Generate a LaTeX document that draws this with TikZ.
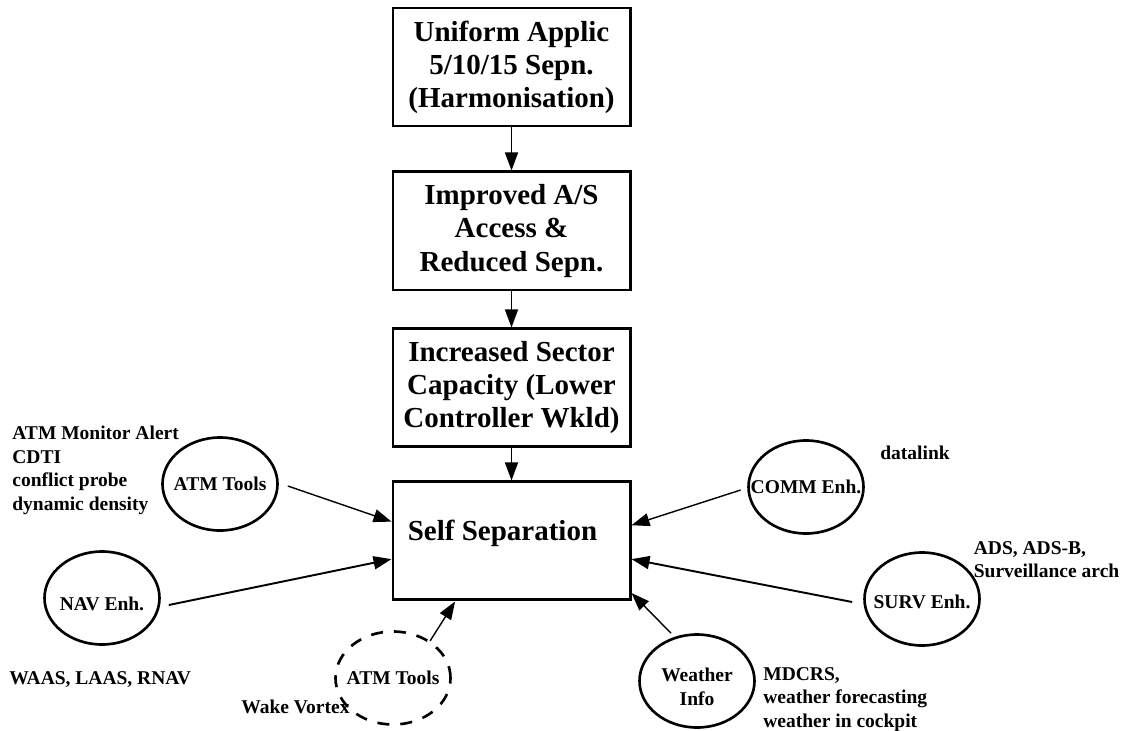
\documentclass[tikz,border=0pt]{standalone}
\usepackage{fontspec}
\setmainfont{Liberation Serif}
\usepackage{tikz}
\usetikzlibrary{shapes.geometric,arrows.meta,positioning,calc}
\newcommand{\stagefont}{\fontsize{16.5}{18.8}\selectfont\bfseries}
\newcommand{\notefont}{\fontsize{11.1}{13.4}\selectfont\bfseries}

\begin{document}
\begin{tikzpicture}[
    stage/.style={draw, line width=1.7pt, minimum width=4.74cm, minimum height=2.36cm, align=center, inner sep=0pt, font=\stagefont},
    tool/.style={draw, ellipse, line width=1.5pt, minimum width=2.3cm, minimum height=1.86cm, inner sep=0pt},
    dashedtool/.style={tool, dash pattern=on 0.24cm off 0.22cm},
    note/.style={anchor=north west, inner sep=0pt, align=left, font=\notefont},
    feed/.style={-{Triangle[length=0.36cm,width=0.26cm]}, line width=0.8pt},
    every label/.append style={font=\notefont, inner sep=0pt, align=center},
    node distance=0.86cm
]
\useasboundingbox (0,0) rectangle (22.52,-14.6);

% Main chain
\node[stage] (harmon) at (10.23,-1.34) {Uniform Applic\\5/10/15 Sepn.\\(Harmonisation)};
\node[stage, below=0.86cm of harmon] (access) {Improved A/S\\Access \&\\Reduced Sepn.};
\node[stage, below=0.72cm of access] (capacity) {Increased Sector\\Capacity (Lower\\Controller Wkld)};
\node[stage, below=0.64cm of capacity] (selfsep) {};
\node[anchor=base west, inner sep=0pt, font=\stagefont] (selfseptitle) at ($(selfsep.north west)+(0.32,-1.21)$) {Self Separation};

% Enablers
\node[tool, label={center:ATM Tools}] (atmtools) at (4.40,-9.68) {};
\node[tool, label={[yshift=-0.12cm]center:NAV Enh.}] (nav) at (2.04,-11.96) {};
\node[dashedtool, label={center:ATM Tools}] (atmwake) at (7.86,-13.56) {};
\node[tool, label={[yshift=-0.12cm]center:Weather\\Info}] (weather) at (13.94,-13.62) {};
\node[tool, label={[yshift=-0.06cm]center:SURV Enh.}] (surv) at (18.44,-11.98) {};
\node[tool, label={center:COMM Enh.}] (comm) at (16.12,-9.74) {};

% Notes beside the enablers
\node[note] (atmnotes) at (0.24,-8.52) {ATM Monitor Alert\\CDTI\\conflict probe\\dynamic density};
\node[note] (navnotes) at (0.18,-13.42) {WAAS, LAAS, RNAV};
\node[note] (wakenotes) at (4.82,-14.0) {Wake Vortex};
\node[note] (commnotes) at (17.6,-8.92) {datalink};
\node[note] (survnotes) at (19.47,-10.82) {ADS, ADS-B,\\Surveillance arch};
\node[note] (weathernotes) at (15.26,-13.34) {MDCRS,\\weather forecasting\\weather in cockpit};

% Chain arrows
\draw[feed] (harmon) -- (access);
\draw[feed] (access) -- (capacity);
\draw[feed] (capacity) -- (selfsep);

% Enabler arrows
\draw[feed] ($(atmtools.east)+(0.18,-0.04)$) -- ($(selfsep.north west)!0.34!(selfsep.south west)$);
\draw[feed, line width=1.1pt] ($(nav.east)+(0.16,-0.14)$) -- ($(selfsep.north west)!0.65!(selfsep.south west)$);
\draw[feed] (atmwake.45) -- ($(selfsep.south west)!0.265!(selfsep.south east)$);
\draw[feed] ($(weather.north)+(-0.52,0)$) -- ($(selfsep.north east)!0.93!(selfsep.south east)$);
\draw[feed, line width=1.1pt] ($(surv.west)+(-0.22,-0.06)$) -- ($(selfsep.north east)!0.65!(selfsep.south east)$);
\draw[feed] ($(comm.west)+(-0.13,-0.06)$) -- ($(selfsep.north east)!0.37!(selfsep.south east)$);

\end{tikzpicture}
\end{document}
